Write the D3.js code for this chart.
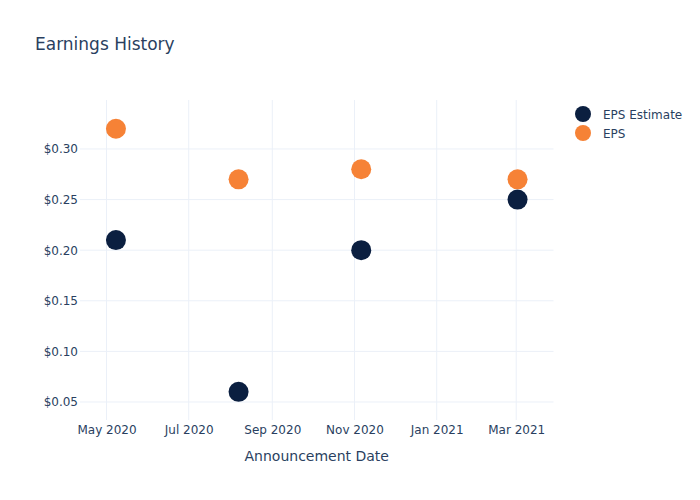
<!DOCTYPE html>
<html><head><meta charset="utf-8">
<script src="https://cdn.jsdelivr.net/npm/d3@7"></script>
<style>body{margin:0;background:#fff}svg{display:block;font-family:"DejaVu Sans",verdana,arial,sans-serif}</style>
</head><body><svg id="c" width="700" height="500"></svg>
<script>
const dates = ["2020-05-08", "2020-08-07", "2020-11-06", "2021-03-02"];
const epsEstimate = [0.21, 0.06, 0.20, 0.25];
const eps = [0.32, 0.27, 0.28, 0.27];
const seriesNames = ["EPS Estimate", "EPS"];
const seriesColors = ["#0b1f40", "#f68236"];
const yTicks = [0.05, 0.10, 0.15, 0.20, 0.25, 0.30];
const xTicks = ["2020-05-01", "2020-07-01", "2020-09-01", "2020-11-01", "2021-01-01", "2021-03-01"];
const xRange = ["2020-04-11T08:00", "2021-03-28T16:00"];
const yRange = [0.0322, 0.3484];

const svg = d3.select("#c");
const L = 80, R = 553.5, T = 100, B = 420;
const parse = s => new Date(s);
const x = d3.scaleTime().domain(xRange.map(parse)).range([L, R]);
const y = d3.scaleLinear().domain(yRange).range([B, T]);
const txt = "#2a3f5f", grid = "#ebf0f8";
const ff = '"DejaVu Sans",verdana,arial,sans-serif';

// gridlines
svg.append("g").selectAll("line").data(xTicks).join("line")
  .attr("x1", d => x(parse(d))).attr("x2", d => x(parse(d)))
  .attr("y1", T).attr("y2", B).attr("stroke", grid).attr("stroke-width", 1);
svg.append("g").selectAll("line").data(yTicks).join("line")
  .attr("x1", L).attr("x2", R).attr("y1", d => y(d)).attr("y2", d => y(d))
  .attr("stroke", grid).attr("stroke-width", 1);

// axes
const xAxis = d3.axisBottom(x).tickValues(xTicks.map(parse)).tickFormat(d3.timeFormat("%b %Y")).tickSize(0).tickPadding(5);
const gx = svg.append("g").attr("transform", `translate(0,${B})`).call(xAxis);
gx.select(".domain").remove();
gx.selectAll("text").attr("fill", txt).style("font-size", "12px").style("font-family", ff);

const yAxis = d3.axisLeft(y).tickValues(yTicks).tickFormat(d => "$" + d3.format(".2f")(d)).tickSize(0).tickPadding(2);
const gy = svg.append("g").attr("transform", `translate(${L},0)`).call(yAxis);
gy.select(".domain").remove();
gy.selectAll("text").attr("fill", txt).style("font-size", "12px").style("font-family", ff);

// title & axis title
svg.append("text").attr("x", 35).attr("y", 50).attr("fill", txt).style("font-size", "17px").text("Earnings History");
svg.append("text").attr("x", (L + R) / 2).attr("y", 461).attr("text-anchor", "middle").attr("fill", txt).style("font-size", "14px").text("Announcement Date");

// points
const series = [epsEstimate, eps];
series.forEach((vals, i) => {
  svg.append("g").selectAll("circle").data(vals).join("circle")
    .attr("cx", (d, j) => x(parse(dates[j])))
    .attr("cy", d => y(d))
    .attr("r", 10)
    .attr("fill", seriesColors[i]);
});

// legend
const lg = svg.append("g").attr("transform", "translate(583,114)");
seriesNames.forEach((n, i) => {
  const g = lg.append("g").attr("transform", `translate(0,${i * 19})`);
  g.append("circle").attr("r", 8).attr("fill", seriesColors[i]);
  g.append("text").attr("x", 20).attr("y", 4.5).attr("fill", txt).style("font-size", "12px").text(n);
});
</script></body></html>
